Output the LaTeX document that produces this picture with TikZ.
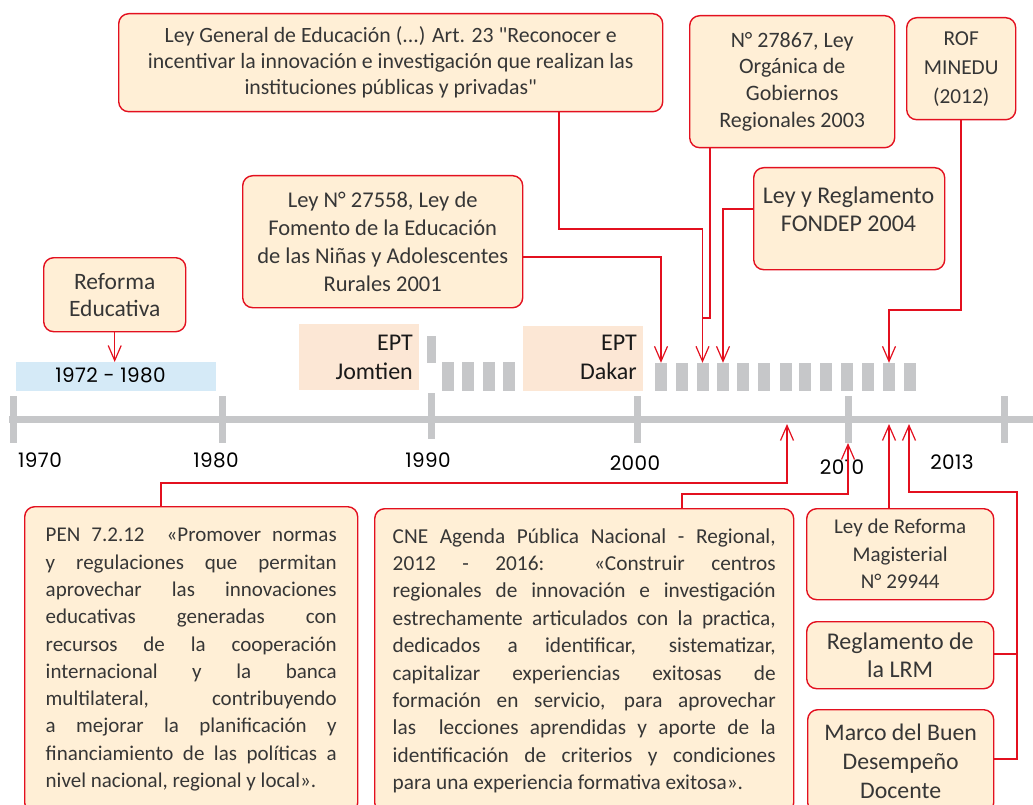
\documentclass[tikz,border=0pt]{standalone}
\usepackage{fontspec}
\setmainfont{Carlito}
\newfontfamily\yearfont[LetterSpace=2]{Poppins}
\usetikzlibrary{arrows.meta}
\definecolor{lred}{HTML}{E3101F}
\definecolor{lfill}{HTML}{FFEFD6}
\definecolor{ltext}{HTML}{363636}
\definecolor{tlgray}{HTML}{C6C7C9}
\definecolor{eptfill}{HTML}{FCE7D5}
\definecolor{bluefill}{HTML}{D5EAF7}
\newcommand\myfs[2]{\fontsize{#1}{#2}\selectfont}
\tikzset{
  lawbox/.style={draw=lred, line width=1.4pt, fill=lfill, rounded corners=10pt,
    inner sep=0pt, align=center, text=ltext, anchor=north west},
  eptbox/.style={fill=eptfill, inner sep=0pt, anchor=north west},
  bar/.style={fill=tlgray, inner sep=0pt, minimum width=12pt, minimum height=28pt},
  conn/.style={draw=lred, line width=1.2pt, -{Straight Barb[length=15pt,width=13pt,line width=1.2pt]}},
  link/.style={draw=lred, line width=1.2pt},
  yearlbl/.style={font=\yearfont\myfs{20}{22}, text=black, inner sep=0pt},
  epttxt/.style={font=\myfs{24}{29}, text=black!90, align=right, inner sep=0pt, anchor=east},
}
\begin{document}
\begin{tikzpicture}[x=1pt,y=-1pt]
\useasboundingbox (0,0) rectangle (1033,805);
% ---- timeline
\fill[tlgray] (9,416) rectangle (1033,423);
\foreach \tx in {13,222,637,848,1004}{\fill[tlgray] (\tx-3.5,396) rectangle (\tx+3.5,443);}
\fill[tlgray] (427.5,393) rectangle (434.5,439);
\fill[tlgray] (427,336) rectangle (436,363);
\foreach \bx in {448,468,488.5,509}{\fill[tlgray] (\bx-6,362) rectangle (\bx+6,391);}
% bars 2001-2013
\foreach \yr/\bx in {2001/661,2002/682,2003/702.5,2004/723,2005/743,2006/764,2007/785.5,2008/805,2009/826,2010/847,2011/868,2012/889,2013/910}{
  \node[bar] (b\yr) at (\bx,377) {};
}
% axis coordinates
\coordinate (t2007) at (787,424);
\coordinate (t2010) at (848,443);
\coordinate (t2012) at (889,424);
\coordinate (t2013) at (909,424);
% ---- year labels
\node[yearlbl] (y1970) at (40,460) {1970};
\node[yearlbl] (y1980) at (216,460) {1980};
\node[yearlbl] (y1990) at (428,460) {1990};
\node[yearlbl] (y2000) at (635,463) {2000};
\node[yearlbl] (y2010) at (842,467) {2010};
\node[yearlbl] (y2013) at (952,462) {2013};
% ---- period and EPT boxes
\node[fill=bluefill, inner sep=0pt, anchor=north west, minimum width=200pt, minimum height=29pt] (blue) at (16,362) {};
\node[font=\yearfont\myfs{20}{22}, text=black, inner sep=0pt] (bluetxt) at (110.5,375) {1972 - 1980};
\node[eptbox, minimum width=120pt, minimum height=66pt] (jomtien) at (299,324) {};
\node[epttxt] (jomtientxt) at (413,357) {EPT\\Jomtien};
\node[eptbox, minimum width=120pt, minimum height=65pt] (dakar) at (523,326) {};
\node[epttxt] (dakartxt) at (637,357.5) {EPT\\Dakar};
% ---- law boxes (top)
\node[lawbox, minimum width=142pt, minimum height=74pt, font=\myfs{23.5}{27}] (reforma) at (43,257) {Reforma\\Educativa};
\node[lawbox, minimum width=544pt, minimum height=98pt, font=\myfs{21.8}{26}] (lge) at (118,13)
  {Ley General de Educación (...) Art. 23 \textquotedbl Reconocer e\\incentivar la innovación e investigación que realizan las\\instituciones públicas y privadas\textquotedbl};
\node[lawbox, minimum width=280pt, minimum height=132pt, font=\myfs{22.5}{28}] (l275) at (242,175)
  {Ley N° 27558, Ley de\\Fomento de la Educación\\de las Niñas y Adolescentes\\Rurales 2001};
\node[lawbox, minimum width=205pt, minimum height=132pt, font=\myfs{22}{26.7}] (n278) at (689,15)
  {N° 27867, Ley\\Orgánica de\\Gobiernos\\Regionales 2003};
\node[lawbox, minimum width=191pt, minimum height=102pt] (fondep) at (753,167) {};
\node[font=\myfs{24}{28}, text=ltext, align=center, inner sep=0pt] (fondeptxt) at (848.5,209) {Ley y Reglamento\\FONDEP 2004};
\node[lawbox, minimum width=109pt, minimum height=102pt, font=\myfs{21.3}{29}] (rof) at (906,17)
  {ROF\\MINEDU\\(2012)};
% ---- law boxes (bottom)
\node[lawbox, minimum width=333pt, minimum height=306pt, font=\myfs{21}{27.3}, align=left] (pen) at (24,506)
  {\makebox[291pt][s]{PEN 7.2.12 \ «Promover normas}\\
   \makebox[291pt][s]{y regulaciones que permitan}\\
   \makebox[291pt][s]{aprovechar las innovaciones}\\
   \makebox[291pt][s]{educativas generadas con}\\
   \makebox[291pt][s]{recursos de la cooperación}\\
   \makebox[291pt][s]{internacional y la banca}\\
   \makebox[291pt][s]{multilateral, contribuyendo}\\
   \makebox[291pt][s]{a mejorar la planificación y}\\
   \makebox[291pt][s]{financiamiento de las políticas a}\\
   \makebox[291pt][l]{nivel nacional, regional y local».}};
\node[lawbox, minimum width=419pt, minimum height=304pt, font=\myfs{21.3}{27.4}, align=left] (cne) at (374,508)
  {\makebox[383pt][s]{CNE Agenda Pública Nacional - Regional,}\\
   \makebox[383pt][s]{2012 - 2016: «Construir centros}\\
   \makebox[383pt][s]{regionales de innovación e investigación}\\
   \makebox[383pt][s]{estrechamente articulados con la practica,}\\
   \makebox[383pt][s]{dedicados a identificar, sistematizar,}\\
   \makebox[383pt][s]{capitalizar experiencias exitosas de}\\
   \makebox[383pt][s]{formación en servicio, para aprovechar}\\
   \makebox[383pt][s]{las \ lecciones aprendidas y aporte de la}\\
   \makebox[383pt][s]{identificación de criterios y condiciones}\\
   \makebox[383pt][l]{para una experiencia formativa exitosa».}};
\node[lawbox, minimum width=187pt, minimum height=91pt, font=\myfs{21}{27.5}] (lrm) at (806,508)
  {Ley de Reforma\\Magisterial\\N° 29944};
\node[lawbox, minimum width=187pt, minimum height=67pt, font=\myfs{24}{28}] (regl) at (806,621)
  {Reglamento de\\la LRM};
\node[lawbox, minimum width=186pt, minimum height=103pt, font=\myfs{23.8}{29}] (marco) at (807,709)
  {Marco del Buen\\Desempeño\\Docente};
% ---- connectors
\draw[conn] (reforma.south) -- (reforma.south |- blue.north);
\draw[conn] (lge.south -| 559,0) -- (559,229) -| (b2003.north);
\coordinate (j27867) at (702.5,318);
\draw[link] (n278.south -| 710,0) |- (j27867);
\draw[conn] (l275.east |- 0,257) -| (b2001.north);
\draw[conn] (fondep.west |- 0,209) -| (b2004.north);
\draw[conn] (rof.south -| 961,0) -- (961,310) -| (b2012.north);
\draw[conn] (pen.north -| 161,0) |- (787,483) -- (t2007);
\draw[conn] (cne.north -| 682,0) |- (848,494) -- (t2010);
\draw[conn] (lrm.north -| 889,0) -- (t2012);
\draw[link] (regl.east |- 0,654) -- (1017,654);
\draw[conn] (marco.east |- 0,759) -| (1017,492) -| (t2013);
\end{tikzpicture}
\end{document}
